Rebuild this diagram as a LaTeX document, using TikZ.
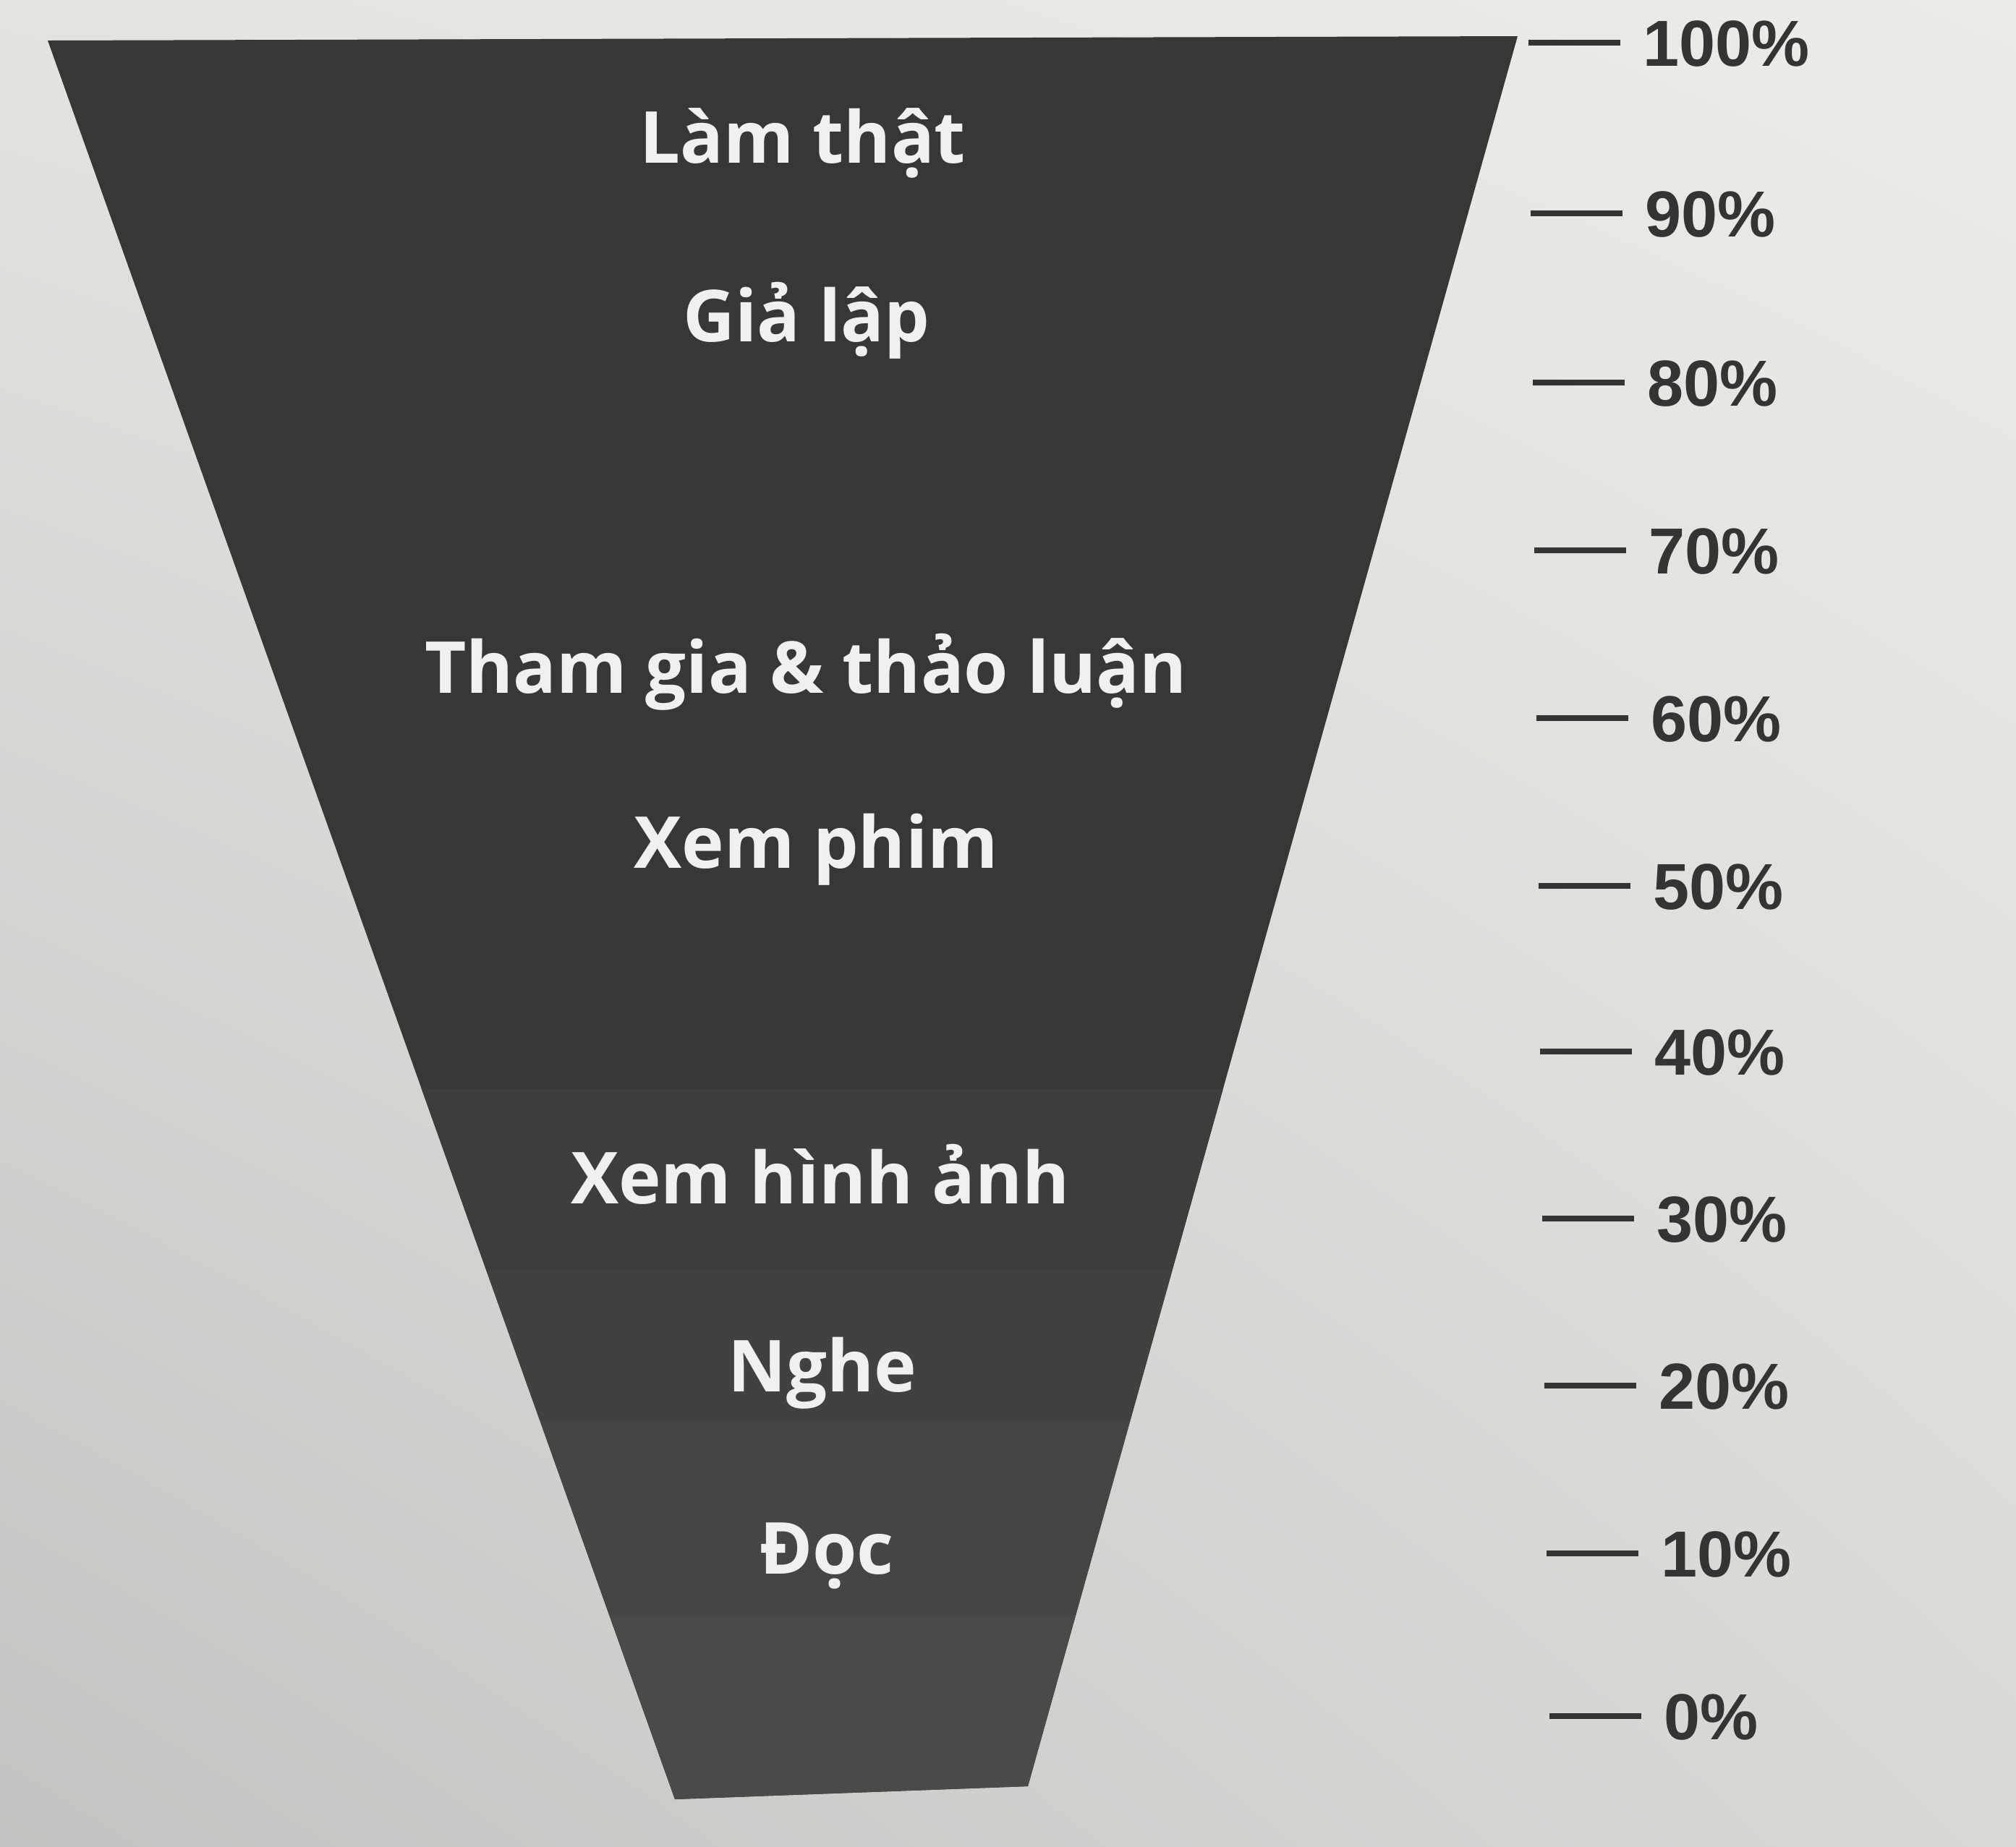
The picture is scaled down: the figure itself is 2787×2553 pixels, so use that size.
\documentclass[tikz,border=0pt]{standalone}
\usepackage{fontspec}
\usepackage{xcolor}
\usetikzlibrary{shadings}
\newfontfamily\stagefont{Open Sans}
\newfontfamily\pctfont{Liberation Sans}
\definecolor{paperul}{RGB}{227,227,224}
\definecolor{paperur}{RGB}{236,236,233}
\definecolor{paperll}{RGB}{196,196,194}
\definecolor{paperlr}{RGB}{217,217,214}
\definecolor{funneltop}{RGB}{56,55,54}
\definecolor{bandtwo}{RGB}{61,61,60}
\definecolor{bandthree}{RGB}{65,65,64}
\definecolor{bandfour}{RGB}{69,69,68}
\definecolor{bandfive}{RGB}{74,74,73}
\definecolor{inkgray}{RGB}{52,52,52}
\definecolor{labelwhite}{RGB}{240,240,240}

\begin{document}
\begin{tikzpicture}[x=0.01cm, y=-0.01cm,
    stagelabel/.style={anchor=base, inner sep=0pt, text=labelwhite,
        font=\stagefont\bfseries\fontsize{28.2}{30}\selectfont},
    pct/.style={anchor=west, inner xsep=0.31cm, inner ysep=0pt, text=inkgray,
        text height=0.64cm, text depth=0pt,
        font=\pctfont\bfseries\fontsize{25.6}{28}\selectfont},
    tick/.style={draw=inkgray, line width=0.08cm}]
    % paper
    \shade[upper left=paperul, upper right=paperur, lower left=paperll, lower right=paperlr]
        (0,0) rectangle (2787,2553);
    \useasboundingbox (0,0) rectangle (2787,2553);

    % funnel and its bands
    \fill[funneltop] (66,56) -- (2098,50) -- (1421,2470) -- (933,2488) -- cycle;
    \begin{scope}
        \clip (66,56) -- (2098,50) -- (1421,2470) -- (933,2488) -- cycle;
        \fill[bandtwo] (0,1505) rectangle (2787,1757);
        \fill[bandthree] (0,1757) rectangle (2787,1964);
        \fill[bandfour] (0,1964) rectangle (2787,2233);
        \fill[bandfive] (0,2233) rectangle (2787,2553);
    \end{scope}

    % stages
    \node[stagelabel] (lamthat) at (1110,225) {Làm thật};
    \node[stagelabel] (gialap) at (1115,472) {Giả lập};
    \node[stagelabel] (thamgia) at (1114,958) {Tham gia \& thảo luận};
    \node[stagelabel] (xemphim) at (1128,1200) {Xem phim};
    \node[stagelabel] (xemhinh) at (1134,1664) {Xem hình ảnh};
    \node[stagelabel] (nghe) at (1137,1924) {Nghe};
    \node[stagelabel] (doc) at (1143,2176) {Đọc};

    % scale on the right
    \coordinate (t100) at (2113,59);
    \node[pct] (p100) at (2240,59) {100\%};
    \draw[tick] (t100) -- (p100);
    \coordinate (t90) at (2116,295);
    \node[pct] (p90) at (2243,295) {90\%};
    \draw[tick] (t90) -- (p90);
    \coordinate (t80) at (2119,529);
    \node[pct] (p80) at (2246,529) {80\%};
    \draw[tick] (t80) -- (p80);
    \coordinate (t70) at (2121,761);
    \node[pct] (p70) at (2248,761) {70\%};
    \draw[tick] (t70) -- (p70);
    \coordinate (t60) at (2124,993);
    \node[pct] (p60) at (2251,993) {60\%};
    \draw[tick] (t60) -- (p60);
    \coordinate (t50) at (2127,1225);
    \node[pct] (p50) at (2254,1225) {50\%};
    \draw[tick] (t50) -- (p50);
    \coordinate (t40) at (2129,1454);
    \node[pct] (p40) at (2256,1454) {40\%};
    \draw[tick] (t40) -- (p40);
    \coordinate (t30) at (2132,1685);
    \node[pct] (p30) at (2259,1685) {30\%};
    \draw[tick] (t30) -- (p30);
    \coordinate (t20) at (2135,1916);
    \node[pct] (p20) at (2262,1916) {20\%};
    \draw[tick] (t20) -- (p20);
    \coordinate (t10) at (2138,2148);
    \node[pct] (p10) at (2265,2148) {10\%};
    \draw[tick] (t10) -- (p10);
    \coordinate (t0) at (2142,2373);
    \node[pct] (p0) at (2269,2373) {0\%};
    \draw[tick] (t0) -- (p0);
\end{tikzpicture}
\end{document}
